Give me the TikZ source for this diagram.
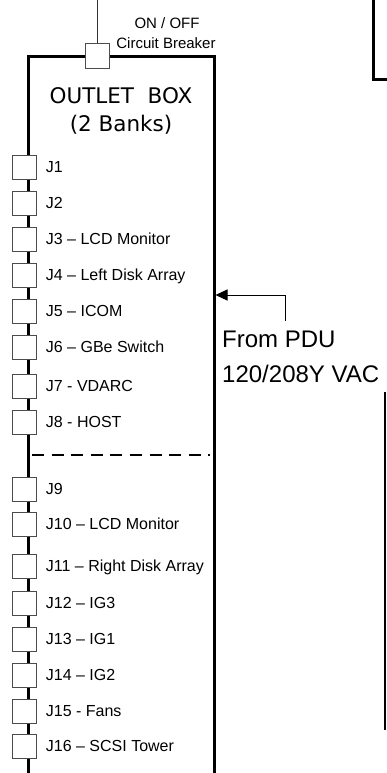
\documentclass[tikz,border=0pt]{standalone}
\usepackage{fontspec}
\setmainfont{Liberation Sans}
\newfontfamily\dvfont{DejaVu Sans}
\usetikzlibrary{arrows.meta}
\begin{document}
\begin{tikzpicture}[x=1pt,y=-1pt,
  outlet/.style={draw=black!70, fill=white, line width=0.8pt, minimum width=24pt, minimum height=24pt, inner sep=0pt, outer sep=0pt},
  jlabel/.style={anchor=base west, font=\fontsize{16}{19}\selectfont, inner sep=0pt},
  smalllabel/.style={anchor=base, font=\fontsize{15}{18}\selectfont, inner sep=0pt},
  biglabel/.style={anchor=base west, font=\fontsize{24}{28}\selectfont, inner sep=0pt},
  boxtitle/.style={anchor=base, font=\dvfont\fontsize{21.5}{25}\selectfont, inner sep=0pt},
  heavy/.style={line width=3pt, line join=miter},
  feed/.style={line width=1pt},
  divider/.style={line width=2pt, dash pattern=on 12pt off 7.6pt}]
\useasboundingbox (0,0) rectangle (386,773);
% outlet box outline
\coordinate (bl) at (28,780);
\coordinate (tl) at (28,57);
\coordinate (tr) at (214,57);
\coordinate (br) at (214,780);
\draw[heavy] (bl) -- (tl) -- (tr) -- (br);
% top right fragment
\coordinate (rt) at (373,-3);
\coordinate (rc) at (373,80);
\coordinate (re) at (390,80);
\draw[heavy] (rt) -- (rc) -- (re);
% breaker
\coordinate (feedtop) at (97,0);
\node[outlet, minimum height=25pt] (cb) at (97,55.5) {};
\draw[line width=0.9pt, black!80] (feedtop) -- (cb.north);
\node[smalllabel] (onoff) at (167,28.3) {ON / OFF};
\node[smalllabel] (cbl) at (166,48.3) {Circuit Breaker};
% title
\node[boxtitle] (t1) at (121,104) {OUTLET\ \ BOX};
\node[boxtitle] (t2) at (121,131.5) {(2 Banks)};
% outlets
\foreach \n/\yy/\t in {1/167/J1, 2/203/J2, 3/239/{J3 – LCD Monitor}, 4/275/{J4 – Left Disk Array},
  5/311/{J5 – ICOM}, 6/347/{J6 – GBe Switch}, 7/386/{J7 - VDARC}, 8/422/{J8 - HOST},
  9/489/J9, 10/524/{J10 – LCD Monitor}, 11/566/{J11 – Right Disk Array}, 12/603/{J12 – IG3},
  13/639/{J13 – IG1}, 14/675/{J14 – IG2}, 15/711/{J15 - Fans}, 16/746/{J16 – SCSI Tower}} {
  \node[outlet] (j\n) at (24.7,\yy) {};
  \node[jlabel] (l\n) at (45.7,\yy+5.6) {\t};
}
% bank divider
\coordinate (d1) at (32,455);
\coordinate (d2) at (210,455);
\draw[divider] (d1) -- (d2);
% PDU feed
\coordinate (pdu) at (285,321);
\coordinate (pduc) at (285,295);
\coordinate (in) at (215.5,295);
\draw[feed, -{Triangle[length=12pt,width=11pt]}] (pdu) -- (pduc) -- (in);
\node[biglabel] (p1) at (222,347) {From PDU};
\node[biglabel] (p2) at (222,382) {120/208Y VAC};
% right line
\coordinate (r1) at (385,392);
\coordinate (r2) at (385,730);
\draw[line width=1.3pt] (r1) -- (r2);
\end{tikzpicture}
\end{document}
